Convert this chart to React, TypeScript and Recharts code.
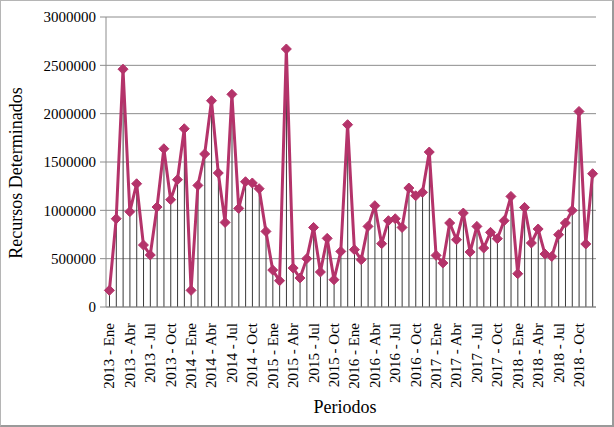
import { ComposedChart, Bar, Line, XAxis, YAxis, CartesianGrid } from "recharts";

const years = [2013, 2014, 2015, 2016, 2017, 2018];
const months = ["Ene", "Feb", "Mar", "Abr", "May", "Jun", "Jul", "Ago", "Sep", "Oct", "Nov", "Dic"];

// Recursos determinados por mes (2013 Ene .. 2018 Dic)
const recursos = [
  172000, 913000, 2460000, 986000, 1275000, 641000, 538000, 1034000, 1637000, 1110000, 1317000, 1844000,
  172000, 1258000, 1583000, 2134000, 1386000, 875000, 2200000, 1020000, 1296000, 1283000, 1224000, 782000,
  382000, 272000, 2669000, 403000, 300000, 500000, 823000, 362000, 710000, 282000, 575000, 1886000,
  593000, 489000, 834000, 1048000, 655000, 893000, 913000, 823000, 1231000, 1151000, 1186000, 1603000,
  534000, 455000, 869000, 696000, 972000, 569000, 834000, 610000, 772000, 707000, 893000, 1144000,
  344000, 1030000, 662000, 807000, 548000, 523000, 748000, 869000, 999000, 2023000, 652000, 1379000,
];

const yTicks = [0, 500000, 1000000, 1500000, 2000000, 2500000, 3000000];

const periodos = years.flatMap((y) => months.map((m) => `${y} - ${m}`));
const data = periodos.map((p, i) => ({ periodo: p, valor: recursos[i] }));

const FONT = "'Liberation Serif', 'Times New Roman', serif";
const LINE = "#B4336A";

const XTick = ({ x, y, payload }: any) => (
  <text
    x={x}
    y={y + 8}
    transform={`rotate(-90 ${x} ${y + 8})`}
    textAnchor="end"
    dominantBaseline="central"
    fontFamily={FONT}
    fontSize={15}
    fill="#000"
  >
    {payload.value}
  </text>
);

const Diamond = ({ cx, cy, index }: any) => {
  if (cx == null || cy == null) return null;
  const r = 5;
  return (
    <polygon
      key={index}
      points={`${cx},${cy - r} ${cx + r},${cy} ${cx},${cy + r} ${cx - r},${cy}`}
      fill={LINE}
      stroke={LINE}
      strokeWidth={1}
    />
  );
};

export default function App() {
  return (
    <div style={{ position: "absolute", left: 0, top: 0, width: 614, height: 427, background: "#fff" }}>
      <ComposedChart
        width={614}
        height={427}
        data={data}
        margin={{ top: 17, right: 18, bottom: 0, left: 0 }}
        barCategoryGap={0}
      >
        <CartesianGrid vertical={false} stroke="#8c8c8c" />
        <XAxis
          dataKey="periodo"
          interval={2}
          height={120}
          tickLine={false}
          axisLine={{ stroke: "#8c8c8c" }}
          tick={<XTick />}
          label={({ viewBox }: any) => (
            <text
              x={viewBox.x + viewBox.width / 2 - 6}
              y={viewBox.y + 106}
              textAnchor="middle"
              fontFamily={FONT}
              fontSize={18}
              fill="#000"
            >
              Periodos
            </text>
          )}
        />
        <YAxis
          width={106}
          domain={[0, 3000000]}
          ticks={yTicks}
          interval={0}
          tickSize={6}
          tickMargin={4}
          tickLine={{ stroke: "#8c8c8c" }}
          axisLine={{ stroke: "#8c8c8c" }}
          tick={{ fill: "#000", fontSize: 15, fontFamily: FONT }}
          label={({ viewBox }: any) => {
            const cx = 22;
            const cy = viewBox.y + viewBox.height / 2 + 11;
            return (
              <text
                x={cx}
                y={cy}
                transform={`rotate(-90 ${cx} ${cy})`}
                textAnchor="middle"
                fontFamily={FONT}
                fontSize={18}
                fill="#000"
              >
                Recursos Determinados
              </text>
            );
          }}
        />
        <Bar dataKey="valor" barSize={1} fill="#3a3a3a" isAnimationActive={false} />
        <Line
          type="linear"
          dataKey="valor"
          stroke={LINE}
          strokeWidth={3}
          dot={<Diamond />}
          activeDot={false}
          isAnimationActive={false}
        />
      </ComposedChart>
      <div
        style={{
          position: "absolute",
          left: 0,
          top: 0,
          width: 611,
          height: 424,
          borderTop: "1px solid #b5b5b5",
          borderLeft: "1px solid #b5b5b5",
          borderRight: "2px solid #9a9a9a",
          borderBottom: "2px solid #9a9a9a",
          pointerEvents: "none",
        }}
      />
    </div>
  );
}
